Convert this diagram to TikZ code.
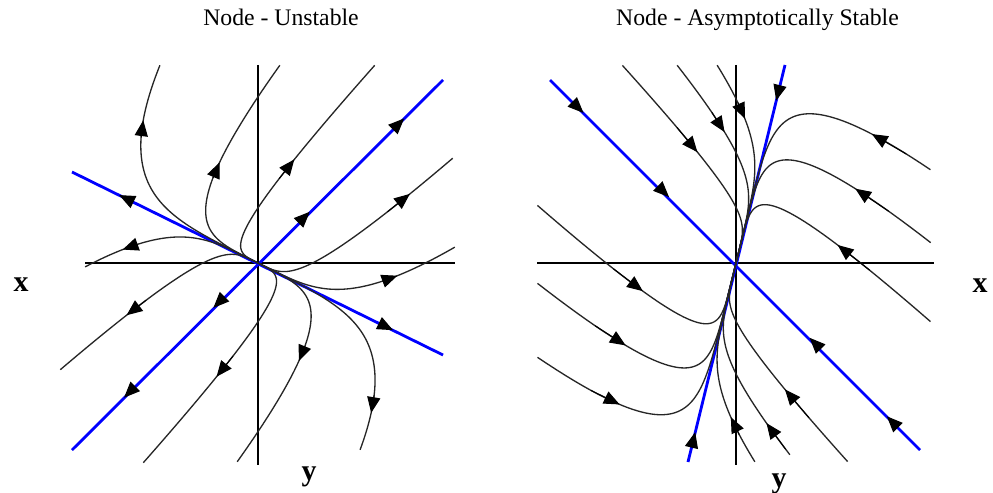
\documentclass[tikz,border=0pt]{standalone}
\usepackage{fontspec}
\setmainfont{Liberation Serif}
\usetikzlibrary{arrows.meta}
\definecolor{eigblue}{RGB}{0,0,255}
\tikzset{
  axisline/.style={black, line width=0.9pt},
  traj/.style={black!85, line width=0.75pt},
  eig/.style={eigblue, line width=1.6pt},
  arr/.style={black, line width=0.6pt, -{Triangle[length=9pt,width=7.5pt]}},
  ttl/.style={font=\fontsize{13.5}{16}\selectfont, anchor=base, inner sep=0pt},
  lbl/.style={font=\fontsize{17}{20}\selectfont\bfseries, anchor=base, inner sep=0pt},
}
% left (unstable) trajectory: p*u + s^4 q*v, u=(1,-0.5), v=(1,1)
\newcommand\trajL[3]{%
  \draw[traj] plot[domain=0:1,samples=90,variable=\s]
    ({\s*(#1)+\s*\s*\s*\s*(#2)},{-0.5*\s*(#1)+\s*\s*\s*\s*(#2)});
  \pgfmathsetmacro\sa{#3-0.03}\pgfmathsetmacro\sb{#3+0.02}%
  \draw[arr] ({\sa*(#1)+\sa*\sa*\sa*\sa*(#2)},{-0.5*\sa*(#1)+\sa*\sa*\sa*\sa*(#2)})
    -- ({\sb*(#1)+\sb*\sb*\sb*\sb*(#2)},{-0.5*\sb*(#1)+\sb*\sb*\sb*\sb*(#2)});
}
% right (stable) trajectory: p*w + s^6 q*f, w=(0.245,1), f=(1,-1)
\newcommand\trajR[3]{%
  \draw[traj] plot[domain=0:1,samples=90,variable=\s]
    ({0.245*\s*(#1)+\s*\s*\s*\s*\s*\s*(#2)},{\s*(#1)-\s*\s*\s*\s*\s*\s*(#2)});
  \pgfmathsetmacro\sa{#3-0.02}\pgfmathsetmacro\sb{#3+0.03}%
  \draw[arr] ({0.245*\sb*(#1)+\sb*\sb*\sb*\sb*\sb*\sb*(#2)},{\sb*(#1)-\sb*\sb*\sb*\sb*\sb*\sb*(#2)})
    -- ({0.245*\sa*(#1)+\sa*\sa*\sa*\sa*\sa*\sa*(#2)},{\sa*(#1)-\sa*\sa*\sa*\sa*\sa*\sa*(#2)});
}
% arrows on straight eigen-lines
\newcommand\outarr[3]{%
  \draw[arr] ({(#3-0.02)*(#1)},{(#3-0.02)*(#2)}) -- ({(#3+0.02)*(#1)},{(#3+0.02)*(#2)});}
\newcommand\inarr[3]{%
  \draw[arr] ({(#3+0.02)*(#1)},{(#3+0.02)*(#2)}) -- ({(#3-0.02)*(#1)},{(#3-0.02)*(#2)});}

\begin{document}
\begin{tikzpicture}[x=0.02cm,y=-0.02cm]
\fill[white] (0,0) rectangle (993,493);
\useasboundingbox (0,0) rectangle (993,493);

\node[ttl] (titleL) at (281,25.5) {Node - Unstable};
\node[ttl] (titleR) at (757.5,25.5) {Node - Asymptotically Stable};
\node[lbl] (xL) at (21,291) {x};
\node[lbl] (yL) at (309,480) {y};
\node[lbl] (xR) at (980,292) {x};
\node[lbl] (yR) at (779,487) {y};

% ---------- left: unstable node ----------
\begin{scope}[shift={(258,263)},yscale=-1]
  \draw[axisline] (-173,0) -- (197,0);
  \draw[axisline] (0,198) -- (0,-202);
  \draw[eig] (-186,-187) -- (185,183);
  \draw[eig] (-186,91) -- (185,-92);
  \trajL{-197.3}{99.3}{0.85}
  \trajL{-117.3}{139.3}{0.77}
  \trajL{-54}{171}{0.81}
  \trajL{60}{135}{0.9}
  \trajL{120.7}{76.3}{0.82}
  \trajL{192.7}{-90.7}{0.89}
  \trajL{118.7}{-139.7}{0.76}
  \trajL{56.7}{-171.7}{0.83}
  \trajL{-60.7}{-137.3}{0.85}
  \trajL{-112.7}{-60.3}{0.86}
  \outarr{185}{183}{0.77}
  \outarr{185}{183}{0.26}
  \outarr{-186}{-187}{0.22}
  \outarr{-186}{-187}{0.70}
  \outarr{-186}{91}{0.726}
  \outarr{185}{-92}{0.71}
\end{scope}

% ---------- right: asymptotically stable node ----------
\begin{scope}[shift={(736,263)},yscale=-1]
  \draw[axisline] (-199,0) -- (198,0);
  \draw[axisline] (0,198) -- (0,-202);
  \draw[eig] (-186,183) -- (184,-187);
  \draw[eig] (-48,-199) -- (49,198);
  \trajR{231.2}{138.2}{0.94}
  \trajR{172.8}{152.8}{0.92}
  \trajR{109.2}{168.2}{0.90}
  \trajR{67.5}{-130.5}{0.88}
  \trajR{111.6}{-86.4}{0.88}
  \trajR{143.8}{-54.2}{0.876}
  \trajR{-113.3}{-171.3}{0.88}
  \trajR{-175.9}{-155.9}{0.90}
  \trajR{-235.3}{-141.3}{0.90}
  \trajR{-144.6}{54.4}{0.905}
  \trajR{-110.8}{81.2}{0.96}
  \trajR{-69.9}{129.1}{0.91}
  \inarr{-186}{183}{0.84}
  \inarr{-186}{183}{0.38}
  \inarr{184}{-187}{0.42}
  \inarr{184}{-187}{0.84}
  \inarr{49}{198}{0.84}
  \inarr{-48}{-199}{0.87}
\end{scope}
\end{tikzpicture}
\end{document}
